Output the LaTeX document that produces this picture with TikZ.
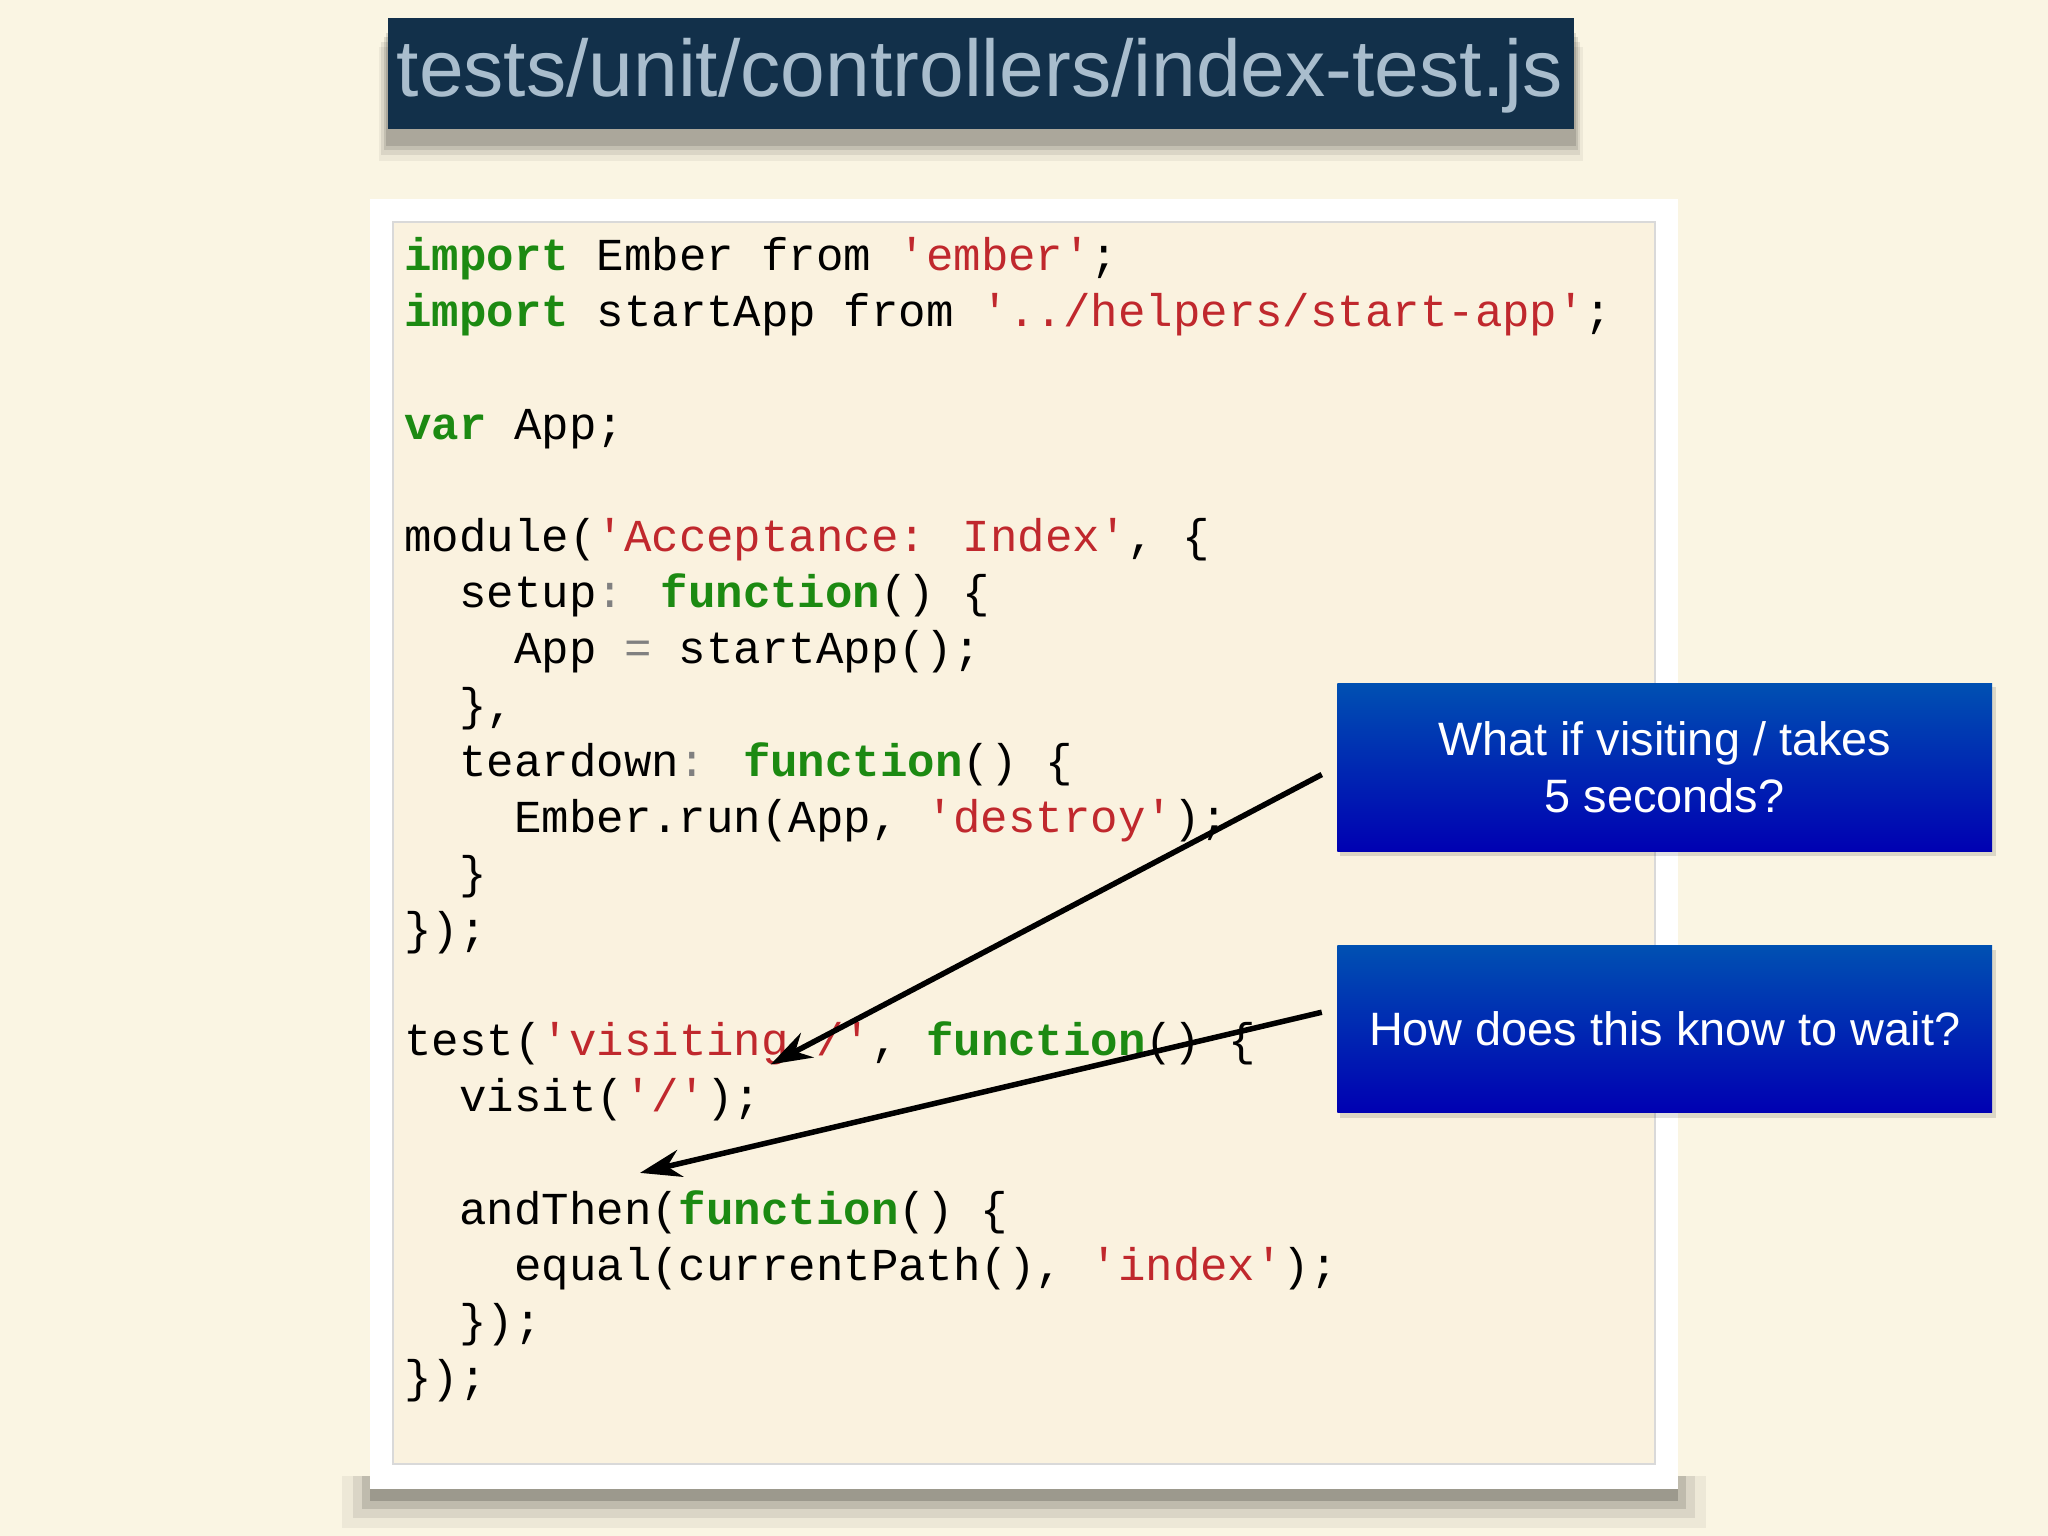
\documentclass[tikz,border=0pt]{standalone}
\usepackage{fontspec}
\setmainfont{Liberation Sans}
\newfontfamily\codefont{Liberation Mono}
\usetikzlibrary{arrows.meta,shadings}
\definecolor{bg}{HTML}{FAF5E3}
\definecolor{codebg}{HTML}{FAF2DF}
\definecolor{navy}{HTML}{12304A}
\definecolor{titletx}{HTML}{A9BDCD}
\definecolor{kwc}{HTML}{1C8A12}
\definecolor{stc}{HTML}{C0282D}
\definecolor{pun}{HTML}{808080}
\newcommand\kw[1]{\textcolor{kwc}{\bfseries #1}}
\newcommand\st[1]{\textcolor{stc}{#1}}
\newcommand\qq{\char39}
\newcommand\gp[1]{\textcolor{pun}{#1}}
\begin{document}
\begin{tikzpicture}[x=0.01cm,y=-0.01cm,
  codeline/.style={anchor=mid west,inner sep=0,font=\codefont\fontsize{9.96}{12}\selectfont},
  callout/.style={draw=none,top color=blue!55!cyan!70!black,bottom color=blue!70!black,inner sep=0,
     text=white,font=\fontsize{10.2}{12.3}\selectfont,align=center},
  arr/.style={-{Stealth[length=9pt,width=6pt]},line width=1.2pt,black}]
\useasboundingbox[fill=bg] (0,0) rectangle (1568,1176);
% title
\foreach \o/\a in {14/0.05,10/0.08,6/0.1,3/0.12}
  \fill[black,opacity=\a] (297-\o/2,22+\o) rectangle (1205+\o/2,99+\o+10);
\fill[navy] (297,14) rectangle (1205,99);
\node[text=titletx,inner sep=0] (title) at (750,58) {\resizebox{8.92cm}{!}{tests/unit/controllers/index-test.js}};
% code frame
\foreach \o/\a in {28/0.05,20/0.08,13/0.12,7/0.18}
  \fill[black,opacity=\a] (290-\o,1130) rectangle (1278+\o,1142+\o);
\fill[white] (283,152) rectangle (1285,1140);
\draw[black!15,fill=codebg] (301,170) rectangle (1267,1121);
\node[codeline] (l1) at (309,198) {\kw{import} Ember from \st{\qq ember\qq};};
\node[codeline] (l2) at (309,241) {\kw{import} startApp from \st{\qq../helpers/start-app\qq};};
\node[codeline] (l4) at (309,327) {\kw{var} App;};
\node[codeline] (l6) at (309,413) {module(\st{\qq Acceptance: Index\qq}, \{};
\node[codeline] (l7) at (351,456) {setup\gp{:} \kw{function}() \{};
\node[codeline] (l8) at (393,499) {App \gp{=} startApp();};
\node[codeline] (l9) at (351,542) {\},};
\node[codeline] (l10) at (351,585) {teardown\gp{:} \kw{function}() \{};
\node[codeline] (l11) at (393,628) {Ember.run(App, \st{\qq destroy\qq});};
\node[codeline] (l12) at (351,671) {\}};
\node[codeline] (l13) at (309,714) {\});};
\node[codeline] (l15) at (309,799) {test(\st{\qq visiting /\qq}, \kw{function}() \{};
\node[codeline] (l16) at (351,842) {visit(\st{\qq/\qq});};
\node[codeline] (l18) at (351,928) {andThen(\kw{function}() \{};
\node[codeline] (l19) at (393,971) {equal(currentPath(), \st{\qq index\qq});};
\node[codeline] (l20) at (351,1014) {\});};
\node[codeline] (l21) at (309,1057) {\});};
% callouts
\foreach \y in {523,724}{
  \fill[black,opacity=0.12] (1026,\y+3) rectangle (1528,\y+132);}
\node[callout,minimum width=5.01cm,minimum height=1.29cm] (c1) at (1274.5,587.5) {What if visiting / takes\\5 seconds?};
\node[callout,minimum width=5.01cm,minimum height=1.28cm] (c2) at (1274.5,788) {How does this know to wait?};
\coordinate (a1s) at (1012,593);
\coordinate (a1e) at (590,815);
\coordinate (a2s) at (1012,775);
\coordinate (a2e) at (490,898);
\draw[arr] (a1s) -- (a1e);
\draw[arr] (a2s) -- (a2e);
\end{tikzpicture}
\end{document}
